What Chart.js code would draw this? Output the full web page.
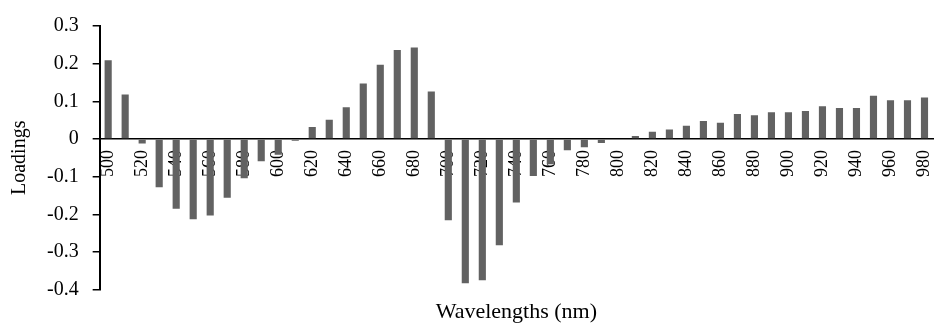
<!DOCTYPE html>
<html>
<head>
<meta charset="utf-8">
<script src="https://cdn.jsdelivr.net/npm/chart.js@4/dist/chart.umd.min.js"></script>
<style>
html,body{margin:0;padding:0;background:#fff;}
#wrap{width:935px;height:323px;position:relative;}
</style>
</head>
<body>
<div id="wrap"><canvas id="c"></canvas></div>
<script>
const wavelengths = [500,510,520,530,540,550,560,570,580,590,600,610,620,630,640,650,660,670,680,690,700,710,720,730,740,750,760,770,780,790,800,810,820,830,840,850,860,870,880,890,900,910,920,930,940,950,960,970,980];
const loadings = [0.209,0.118,-0.012,-0.128,-0.185,-0.213,-0.203,-0.156,-0.104,-0.059,-0.042,-0.005,0.032,0.051,0.084,0.147,0.197,0.236,0.243,0.126,-0.216,-0.383,-0.375,-0.282,-0.169,-0.098,-0.067,-0.030,-0.022,-0.011,0.0,0.008,0.019,0.025,0.035,0.048,0.043,0.066,0.063,0.071,0.071,0.074,0.087,0.082,0.082,0.115,0.103,0.103,0.110];
const yTicks = [-0.4,-0.3,-0.2,-0.1,0,0.1,0.2,0.3];
const xTitle = 'Wavelengths (nm)';
const yTitle = 'Loadings';

const serif = "'Liberation Serif', 'Times New Roman', serif";
new Chart(document.getElementById('c'), {
  type: 'bar',
  data: {
    labels: wavelengths.map(String),
    datasets: [{
      data: loadings,
      backgroundColor: '#626262',
      borderWidth: 0,
      categoryPercentage: 1,
      barPercentage: 0.42
    }]
  },
  options: {
    responsive: true,
    maintainAspectRatio: false,
    animation: false,
    layout: { padding: { top: 16, right: 2, left: 0, bottom: 0 } },
    plugins: {
      legend: { display: false },
      tooltip: { enabled: false },
      title: {
        display: true,
        text: xTitle,
        position: 'bottom',
        fullSize: false,
        color: '#000',
        font: { family: serif, size: 22, weight: 'normal' },
        padding: { top: 9, bottom: -2 }
      }
    },
    scales: {
      x: {
        type: 'category',
        position: { y: 0 },
        offset: true,
        grid: { display: false, drawTicks: false },
        border: { display: true, color: '#000', width: 1.5 },
        afterFit: function(scale) { scale.paddingRight = 0; scale.paddingLeft = 0; },
        ticks: {
          color: '#000',
          font: { family: serif, size: 18 },
          maxRotation: 90,
          minRotation: 90,
          autoSkip: false,
          padding: 11,
          callback: function(v, i) { return i % 2 === 0 ? this.getLabelForValue(v) : ''; }
        }
      },
      y: {
        min: -0.4,
        max: 0.3,
        afterBuildTicks: function(scale) { scale.ticks = yTicks.map(v => ({ value: v })); },
        grid: { display: true, drawOnChartArea: false, drawTicks: true, tickLength: 7, color: '#000', lineWidth: 1.5 },
        border: { display: true, color: '#000', width: 2 },
        ticks: {
          color: '#000',
          font: { family: serif, size: 20 },
          padding: 14,
          callback: function(v) { return String(Math.round(v * 10) / 10); }
        },
        title: {
          display: true,
          text: yTitle,
          color: '#000',
          font: { family: serif, size: 20 },
          padding: { top: 8, bottom: 1 }
        }
      }
    }
  }
});
</script>
</body>
</html>
